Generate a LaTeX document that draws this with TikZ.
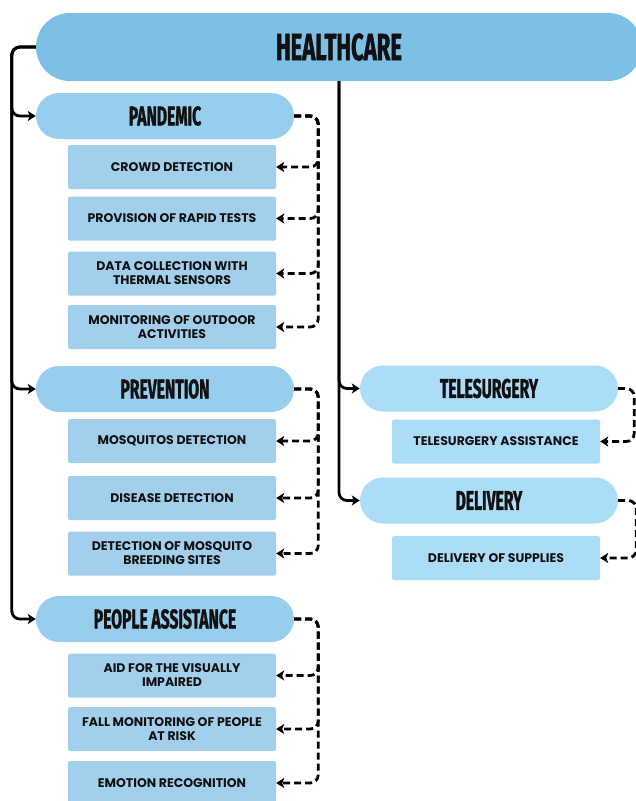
\documentclass[tikz,border=0pt]{standalone}
\usepackage{fontspec}
\usetikzlibrary{arrows.meta}
\newfontfamily\headfont[FakeStretch=0.58,FakeBold=1.2]{Fira Sans}
\newfontfamily\itemfont{Poppins}
\definecolor{hcblue}{HTML}{7DBFE5}
\definecolor{catblue}{HTML}{97CDED}
\definecolor{itemblue}{HTML}{A2D0EC}
\definecolor{rcatblue}{HTML}{ABDDF9}
\definecolor{ritemblue}{HTML}{ABDDF9}
\definecolor{ink}{HTML}{111111}
\tikzset{
  x=1pt, y=-1pt,
  mainpill/.style={fill=hcblue, rounded corners=34pt, minimum width=606pt,
    minimum height=68pt, inner sep=0pt, text=ink,
    font=\headfont\bfseries\fontsize{38}{38}\selectfont},
  catpill/.style={fill=catblue, rounded corners=23pt, minimum width=258pt,
    minimum height=46pt, inner sep=0pt, text=ink,
    font=\headfont\bfseries\fontsize{27}{27}\selectfont},
  rcatpill/.style={catpill, fill=rcatblue},
  itembox/.style={fill=itemblue, rounded corners=1.5pt, minimum width=208pt,
    minimum height=44pt, inner sep=0pt, align=center, text=ink,
    font=\itemfont\bfseries\fontsize{12.5}{14}\selectfont},
  ritembox/.style={itembox, fill=ritemblue},
  link/.style={draw=black, line width=2.8pt, rounded corners=8pt,
    -{Stealth[length=8pt,width=10pt,inset=2pt]}},
  dashlink/.style={link, dash pattern=on 7pt off 4pt},
}
\begin{document}
\begin{tikzpicture}
\useasboundingbox (0,0) rectangle (636,801);
\clip (0,0) rectangle (636,801);

% root
\node[mainpill] (health) at (339,47) {HEALTHCARE};

% left column: categories
\node[catpill] (pandemic)   at (165,116) {PANDEMIC};
\node[catpill] (prevention) at (165,389) {PREVENTION};
\node[catpill] (people)     at (165,619) {PEOPLE ASSISTANCE};

% right column: categories
\node[rcatpill] (tele)     at (489,388.5) {TELESURGERY};
\node[rcatpill] (delivery) at (489,500.5) {DELIVERY};

% pandemic items
\node[itembox] (crowd)   at (172,167)   {CROWD DETECTION};
\node[itembox] (rapid)   at (172,218.5) {PROVISION OF RAPID TESTS};
\node[itembox] (thermal) at (172,273.5) {DATA COLLECTION WITH\\THERMAL SENSORS};
\node[itembox] (outdoor) at (172,327)   {MONITORING OF OUTDOOR\\ACTIVITIES};

% prevention items
\node[itembox] (mosq)     at (172,441)   {MOSQUITOS DETECTION};
\node[itembox] (disease)  at (172,498)   {DISEASE DETECTION};
\node[itembox] (breeding) at (172,553.5) {DETECTION OF MOSQUITO\\BREEDING SITES};

% people assistance items
\node[itembox] (aid)     at (172,675.5) {AID FOR THE VISUALLY\\IMPAIRED};
\node[itembox] (fall)    at (172,729)   {FALL MONITORING OF PEOPLE\\AT RISK};
\node[itembox] (emotion) at (172,783)   {EMOTION RECOGNITION};

% telesurgery and delivery items
\node[ritembox] (teleassist) at (496,441.5) {TELESURGERY ASSISTANCE};
\node[ritembox] (supplies)   at (496,558)   {DELIVERY OF SUPPLIES};

% root to categories
\foreach \c in {pandemic,prevention,people}
  \draw[link] (health.west) -- ++(-24,0) |- (\c.west);
\foreach \c in {tele,delivery}
  \draw[link] (health.south) |- (\c.west);

% categories to items
\foreach \i in {crowd,rapid,thermal,outdoor}
  \draw[dashlink] (pandemic.east) -- ++(24,0) |- (\i.east);
\foreach \i in {mosq,disease,breeding}
  \draw[dashlink] (prevention.east) -- ++(24,0) |- (\i.east);
\foreach \i in {aid,fall,emotion}
  \draw[dashlink] (people.east) -- ++(24,0) |- (\i.east);
\draw[dashlink] (tele.east) -- ++(16,0) |- (teleassist.east);
\draw[dashlink] (delivery.east) -- ++(18,0) |- (supplies.east);
\end{tikzpicture}
\end{document}
